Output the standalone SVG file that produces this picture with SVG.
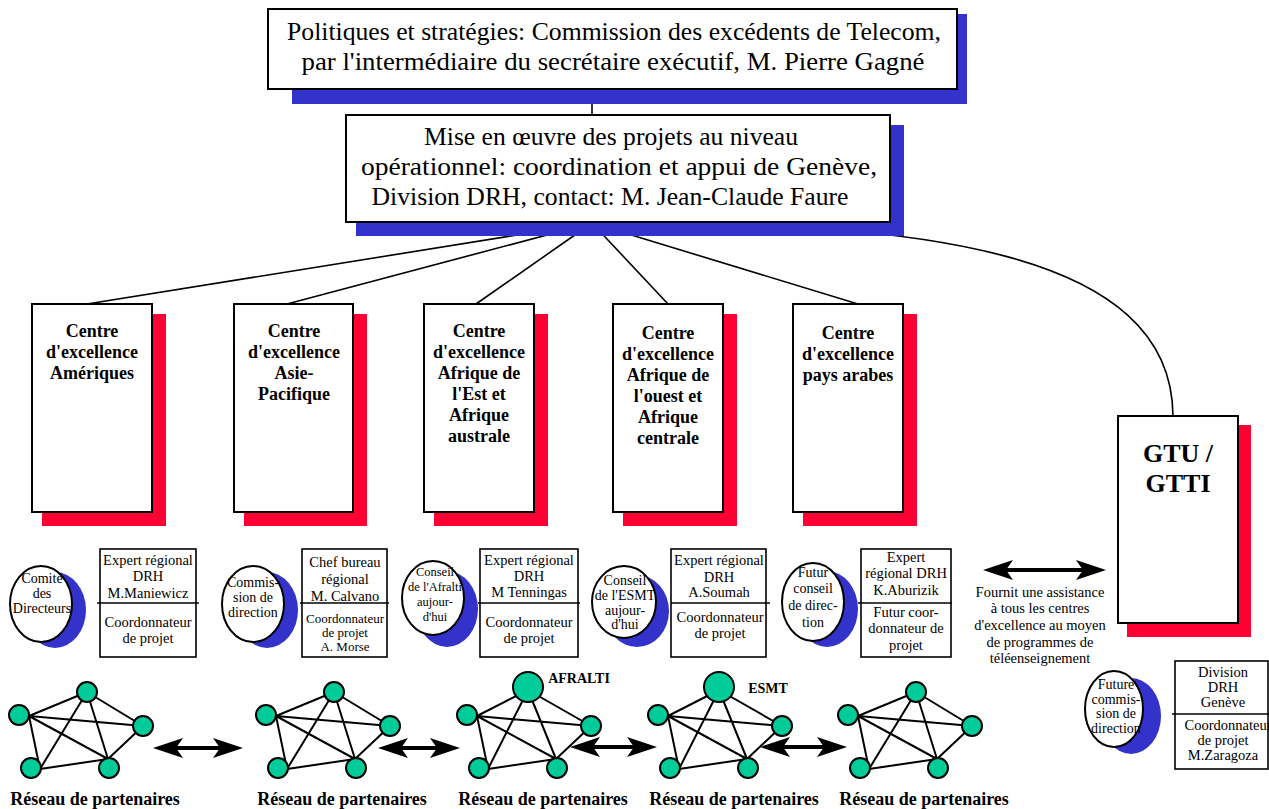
<svg xmlns="http://www.w3.org/2000/svg" xmlns:xlink="http://www.w3.org/1999/xlink" width="1269" height="809" viewBox="0 0 1269 809">
  <style>
    .t{font-family:"Liberation Serif","Times New Roman",serif;text-anchor:middle;fill:#000}
    .big{font-size:26px}
    .ctr{font-size:18px;font-weight:bold}
    .gtu{font-size:26px;font-weight:bold}
    .sm{font-size:14.5px}
    .xs{font-size:13px}
    .el{font-size:14px}
    .el2{font-size:12.5px}
    .lbl{font-size:18px;font-weight:bold}
    .tag{font-size:14px;font-weight:bold}
    .blue{fill:#3333cc}
    .red{fill:#ff0033}
    .box{fill:#fff;stroke:#000;stroke-width:2}
    .cell{fill:#fff;stroke:#000;stroke-width:1.6}
    .div{stroke:#000;stroke-width:1.6}
    .oval{fill:#fff;stroke:#000;stroke-width:2}
    .link{stroke:#000;stroke-width:1.6;fill:none}
    .edge{stroke:#000;stroke-width:2;fill:none}
    .dot{fill:#00cc99;stroke:#000;stroke-width:2}
    .dbl{stroke:#000;stroke-width:4;fill:none;marker-start:url(#barb);marker-end:url(#barb)}
  </style>
  <defs>
    <marker id="barb" viewBox="0 0 30 24" refX="8" refY="12" markerWidth="30" markerHeight="24" markerUnits="userSpaceOnUse" orient="auto-start-reverse">
      <path d="M0,2 L30,12 L0,22 L7,12 Z" fill="#000"/>
    </marker>
    <!-- mesh of a partner network, drawn around the small-node layout -->
    <g id="mesh">
      <path class="edge" d="M29,716 L87,692 M29,716 L143,726 M29,716 L108,759 M29,716 L40,769 M87,692 L143,726 M87,692 L40,769 M87,692 L108,759 M143,726 L108,759 M40,769 L108,759"/>
    </g>
    <g id="mesh-hub">
      <path class="edge" d="M29,716 L80,690 M29,716 L143,726 M29,716 L108,759 M29,716 L40,769 M80,690 L143,726 M80,690 L40,769 M80,690 L108,759 M143,726 L108,759 M40,769 L108,759"/>
    </g>
    <g id="leaves">
      <circle class="dot" cx="19" cy="715" r="10"/>
      <circle class="dot" cx="143" cy="726" r="10"/>
      <circle class="dot" cx="31" cy="768" r="10"/>
      <circle class="dot" cx="109" cy="768" r="10"/>
    </g>
    <clipPath id="clip-b5"><rect x="861" y="549" width="90" height="108"/></clipPath>
  </defs>

  <!-- connectors -->
  <g id="connectors">
    <line class="link" x1="592" y1="89" x2="592" y2="115"/>
    <line class="link" x1="592" y1="223" x2="87" y2="304"/>
    <line class="link" x1="592" y1="223" x2="287" y2="304"/>
    <line class="link" x1="592" y1="223" x2="476" y2="304"/>
    <line class="link" x1="592" y1="223" x2="668" y2="304"/>
    <line class="link" x1="592" y1="223" x2="858" y2="304"/>
    <path class="link" d="M592,223 C920,220 1172,250 1173,416"/>
    <line class="dbl" x1="175" y1="748" x2="221" y2="748"/>
    <line class="dbl" x1="400" y1="748" x2="438" y2="748"/>
    <line class="dbl" x1="592" y1="747" x2="635" y2="747"/>
    <line class="dbl" x1="782" y1="747" x2="825" y2="747"/>
    <line class="dbl" x1="1005" y1="570" x2="1084" y2="570"/>
  </g>

  <!-- policy level -->
  <g id="policy">
    <rect class="blue" x="292" y="14" width="675" height="90"/>
    <rect class="box" x="268" y="9" width="689" height="80"/>
    <text class="t big" x="614" y="40" textLength="654" lengthAdjust="spacingAndGlyphs">Politiques et stratégies: Commission des excédents de Telecom,</text>
    <text class="t big" x="613" y="70" textLength="623" lengthAdjust="spacingAndGlyphs">par l'intermédiaire du secrétaire exécutif, M. Pierre Gagné</text>
  </g>

  <!-- operational level -->
  <g id="operations">
    <rect class="blue" x="356" y="125" width="548" height="111"/>
    <rect class="box" x="346" y="115" width="544" height="107"/>
    <text class="t big" x="611" y="145" textLength="374" lengthAdjust="spacingAndGlyphs">Mise en œuvre des projets au niveau</text>
    <text class="t big" x="619" y="175" textLength="516" lengthAdjust="spacingAndGlyphs">opérationnel: coordination et appui de Genève,</text>
    <text class="t big" x="610" y="205" textLength="477" lengthAdjust="spacingAndGlyphs">Division DRH, contact: M. Jean-Claude Faure</text>
  </g>

  <!-- regional centres -->
  <g id="centre-ameriques">
    <rect class="red" x="42" y="314" width="124" height="212"/>
    <rect class="box" x="32" y="304" width="120" height="208"/>
    <text class="t ctr" x="92" y="337">Centre</text>
    <text class="t ctr" x="92" y="358">d'excellence</text>
    <text class="t ctr" x="92" y="379">Amériques</text>
  </g>
  <g id="centre-asie">
    <rect class="red" x="244" y="314" width="123" height="212"/>
    <rect class="box" x="234" y="304" width="119" height="208"/>
    <text class="t ctr" x="294" y="337">Centre</text>
    <text class="t ctr" x="294" y="358">d'excellence</text>
    <text class="t ctr" x="294" y="379">Asie-</text>
    <text class="t ctr" x="294" y="400">Pacifique</text>
  </g>
  <g id="centre-afrique-est">
    <rect class="red" x="434" y="314" width="114" height="212"/>
    <rect class="box" x="424" y="304" width="110" height="208"/>
    <text class="t ctr" x="479" y="337">Centre</text>
    <text class="t ctr" x="479" y="358">d'excellence</text>
    <text class="t ctr" x="479" y="379">Afrique de</text>
    <text class="t ctr" x="479" y="400">l'Est et</text>
    <text class="t ctr" x="479" y="421">Afrique</text>
    <text class="t ctr" x="479" y="442">australe</text>
  </g>
  <g id="centre-afrique-ouest">
    <rect class="red" x="623" y="314" width="114" height="212"/>
    <rect class="box" x="613" y="304" width="110" height="208"/>
    <text class="t ctr" x="668" y="339">Centre</text>
    <text class="t ctr" x="668" y="360">d'excellence</text>
    <text class="t ctr" x="668" y="381">Afrique de</text>
    <text class="t ctr" x="668" y="402">l'ouest et</text>
    <text class="t ctr" x="668" y="423">Afrique</text>
    <text class="t ctr" x="668" y="444">centrale</text>
  </g>
  <g id="centre-pays-arabes">
    <rect class="red" x="803" y="314" width="114" height="212"/>
    <rect class="box" x="793" y="304" width="110" height="208"/>
    <text class="t ctr" x="848" y="339">Centre</text>
    <text class="t ctr" x="848" y="360">d'excellence</text>
    <text class="t ctr" x="848" y="381">pays arabes</text>
  </g>
  <g id="gtu">
    <rect class="red" x="1127" y="425" width="124" height="212"/>
    <rect class="box" x="1118" y="416" width="120" height="207"/>
    <text class="t gtu" x="1178" y="462">GTU /</text>
    <text class="t gtu" x="1178" y="492">GTTI</text>
  </g>

  <!-- boards -->
  <g id="board-ameriques">
    <ellipse class="blue" cx="55" cy="610" rx="31" ry="38"/>
    <ellipse class="oval" cx="41" cy="604" rx="31" ry="38"/>
    <text class="t el" x="42" y="583">Comité</text>
    <text class="t el" x="42" y="598">des</text>
    <text class="t el" x="42" y="613">Directeurs</text>
  </g>
  <g id="board-asie">
    <ellipse class="blue" cx="267" cy="610" rx="31" ry="38"/>
    <ellipse class="oval" cx="253" cy="604" rx="31" ry="38"/>
    <text class="t el" x="253" y="587">Commis-</text>
    <text class="t el" x="253" y="602">sion de</text>
    <text class="t el" x="253" y="617">direction</text>
  </g>
  <g id="board-afralti">
    <ellipse class="blue" cx="447" cy="609" rx="31" ry="38"/>
    <ellipse class="oval" cx="433" cy="598" rx="31" ry="37"/>
    <text class="t el2" x="435" y="576">Conseil</text>
    <text class="t el2" x="435" y="591">de l'Afralti</text>
    <text class="t el2" x="435" y="606">aujour-</text>
    <text class="t el2" x="435" y="621">d'hui</text>
  </g>
  <g id="board-esmt">
    <ellipse class="blue" cx="637" cy="611" rx="32" ry="36"/>
    <ellipse class="oval" cx="624" cy="602" rx="32" ry="36"/>
    <text class="t el" x="625" y="585">Conseil</text>
    <text class="t el" x="625" y="600">de l'ESMT</text>
    <text class="t el" x="625" y="615">aujour-</text>
    <text class="t el" x="625" y="629">d'hui</text>
  </g>
  <g id="board-arabes">
    <ellipse class="blue" cx="827" cy="609" rx="31" ry="38"/>
    <ellipse class="oval" cx="813" cy="602" rx="31" ry="39"/>
    <text class="t el" x="813" y="577">Futur</text>
    <text class="t el" x="813" y="593">conseil</text>
    <text class="t el" x="813" y="610">de direc-</text>
    <text class="t el" x="813" y="627">tion</text>
  </g>
  <g id="board-gtu">
    <ellipse class="blue" cx="1131" cy="716" rx="30" ry="38"/>
    <ellipse class="oval" cx="1114" cy="709" rx="29" ry="38"/>
    <text class="t el" x="1116" y="689">Future</text>
    <text class="t el" x="1116" y="704">commis-</text>
    <text class="t el" x="1116" y="718">sion de</text>
    <text class="t el" x="1116" y="733">direction</text>
  </g>

  <!-- coordinators -->
  <g id="staff-ameriques">
    <rect class="cell" x="100" y="549" width="96" height="108"/>
    <line class="div" x1="97" y1="603" x2="199" y2="603"/>
    <text class="t sm" x="148" y="565">Expert régional</text>
    <text class="t sm" x="148" y="581">DRH</text>
    <text class="t sm" x="148" y="598">M.Maniewicz</text>
    <text class="t sm" x="148" y="627">Coordonnateur</text>
    <text class="t sm" x="148" y="643">de projet</text>
  </g>
  <g id="staff-asie">
    <rect class="cell" x="302" y="549" width="85" height="108"/>
    <line class="div" x1="300" y1="603" x2="389" y2="603"/>
    <text class="t sm" x="345" y="567">Chef bureau</text>
    <text class="t sm" x="345" y="584">régional</text>
    <text class="t sm" x="345" y="601">M. Calvano</text>
    <text class="t xs" x="345" y="623">Coordonnateur</text>
    <text class="t xs" x="345" y="637">de projet</text>
    <text class="t xs" x="345" y="651">A. Morse</text>
  </g>
  <g id="staff-afrique-est">
    <rect class="cell" x="480" y="549" width="98" height="108"/>
    <line class="div" x1="478" y1="603" x2="580" y2="603"/>
    <text class="t sm" x="529" y="565">Expert régional</text>
    <text class="t sm" x="529" y="581">DRH</text>
    <text class="t sm" x="529" y="597">M Tenningas</text>
    <text class="t sm" x="529" y="627">Coordonnateur</text>
    <text class="t sm" x="529" y="643">de projet</text>
  </g>
  <g id="staff-afrique-ouest">
    <rect class="cell" x="671" y="549" width="95" height="108"/>
    <line class="div" x1="671" y1="603" x2="770" y2="603"/>
    <text class="t sm" x="719" y="565">Expert régional</text>
    <text class="t sm" x="719" y="582">DRH</text>
    <text class="t sm" x="719" y="597">A.Soumah</text>
    <text class="t sm" x="720" y="622">Coordonnateur</text>
    <text class="t sm" x="720" y="638">de projet</text>
  </g>
  <g id="staff-arabes">
    <rect class="cell" x="861" y="549" width="90" height="108"/>
    <line class="div" x1="858" y1="603" x2="952" y2="603"/>
    <text class="t sm" x="906" y="562">Expert</text>
    <text class="t sm" x="906" y="578">régional DRH</text>
    <text class="t sm" x="906" y="595">K.Aburizik</text>
    <g clip-path="url(#clip-b5)">
      <text class="t sm" x="906" y="617">Futur coor-</text>
      <text class="t sm" x="906" y="633">donnateur de</text>
      <text class="t sm" x="906" y="650">projet</text>
    </g>
  </g>
  <g id="staff-geneve">
    <rect class="cell" x="1175" y="661" width="93" height="108"/>
    <line class="div" x1="1172" y1="714" x2="1269" y2="714"/>
    <text class="t sm" x="1223" y="677">Division</text>
    <text class="t sm" x="1223" y="692">DRH</text>
    <text class="t sm" x="1223" y="707">Genève</text>
    <text class="t sm" x="1228" y="730">Coordonnateur</text>
    <text class="t sm" x="1223" y="745">de projet</text>
    <text class="t sm" x="1223" y="760">M.Zaragoza</text>
  </g>

  <g id="gtu-note">
    <text class="t sm" x="1040" y="597">Fournit une assistance</text>
    <text class="t sm" x="1040" y="613">à tous les centres</text>
    <text class="t sm" x="1040" y="630">d'excellence au moyen</text>
    <text class="t sm" x="1040" y="647">de programmes de</text>
    <text class="t sm" x="1040" y="663">téléenseignement</text>
  </g>

  <!-- partner networks -->
  <g id="network-ameriques">
    <use xlink:href="#mesh"/>
    <use xlink:href="#leaves"/>
    <circle class="dot" cx="87" cy="692" r="10"/>
    <text class="t lbl" x="95" y="805">Réseau de partenaires</text>
  </g>
  <g id="network-asie" transform="translate(247,0)">
    <use xlink:href="#mesh"/>
    <use xlink:href="#leaves"/>
    <circle class="dot" cx="87" cy="692" r="10"/>
    <text class="t lbl" x="95" y="805">Réseau de partenaires</text>
  </g>
  <g id="network-afralti" transform="translate(448,0)">
    <use xlink:href="#mesh-hub"/>
    <use xlink:href="#leaves"/>
    <circle class="dot" cx="80" cy="687" r="15"/>
    <text class="t tag" x="131" y="683">AFRALTI</text>
    <text class="t lbl" x="95" y="805">Réseau de partenaires</text>
  </g>
  <g id="network-esmt" transform="translate(639,0)">
    <use xlink:href="#mesh-hub"/>
    <use xlink:href="#leaves"/>
    <circle class="dot" cx="80" cy="687" r="15"/>
    <text class="t tag" x="129" y="693">ESMT</text>
    <text class="t lbl" x="95" y="805">Réseau de partenaires</text>
  </g>
  <g id="network-arabes" transform="translate(829,0)">
    <use xlink:href="#mesh"/>
    <use xlink:href="#leaves"/>
    <circle class="dot" cx="87" cy="692" r="10"/>
    <text class="t lbl" x="95" y="805">Réseau de partenaires</text>
  </g>
</svg>
